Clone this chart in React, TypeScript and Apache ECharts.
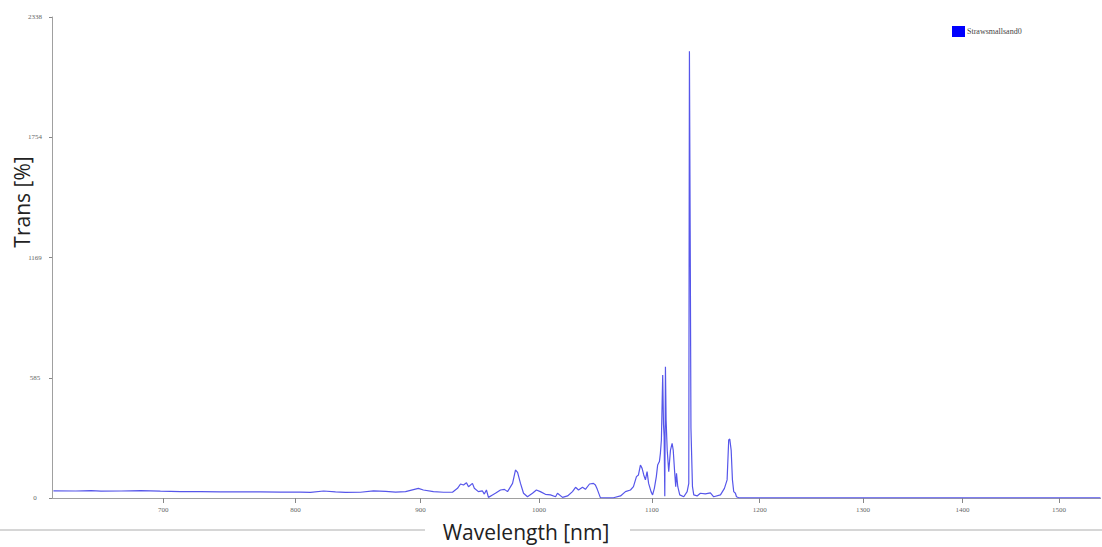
import React, { useEffect, useRef } from "react";
import * as echarts from "echarts";

// Spectrum samples (wavelength in nm, transmission value)
const wavelengths = [
  621, 636.8, 647.6, 654.8, 669.2, 683.5, 697.9, 712.8, 727.7, 742.6,
  757.8, 773.1, 788.4, 803.9, 811.8, 822.1, 831.5, 839.4, 851.3, 861.8,
  871.6, 879.7, 887.8, 898.3, 902.4, 910.7, 919.1, 926.5, 930.7, 933.2,
  935.7, 938.2, 939.9, 943.2, 944.8, 948.2, 951.5, 953.2, 955.0, 956.7,
  960.1, 962.6, 966.9, 970.3, 972.9, 977.2, 979.7, 981.5, 984.0, 986.6,
  990.0, 994.3, 997.7, 1001.1, 1005.5, 1009.9, 1014.3, 1016.0, 1020.4, 1024.8,
  1029.1, 1031.8, 1034.4, 1037.9, 1040.5, 1044.1, 1047.6, 1049.3, 1051.0, 1053.7,
  1060.0, 1065.4, 1071.7, 1076.1, 1080.6, 1083.3, 1086.0, 1087.8, 1089.6, 1091.1,
  1092.6, 1094.1, 1095.6, 1097.0, 1099.2, 1100.6, 1102.2, 1104.0, 1105.2, 1106.8,
  1107.7, 1108.6, 1109.3, 1109.8, 1110.5, 1111.1, 1111.7, 1112.3, 1112.9, 1113.9,
  1115.3, 1116.9, 1118.4, 1119.4, 1120.8, 1121.7, 1122.4, 1123.6, 1125.4, 1129.1,
  1132.2, 1133.7, 1134.3, 1135.0, 1135.7, 1137.1, 1138.3, 1141.4, 1144.4, 1149.0,
  1153.7, 1156.8, 1163.1, 1166.8, 1169.3, 1170.8, 1171.8, 1173.1, 1174.3, 1175.5,
  1177.1, 1178.1, 1180.2, 1200, 1300, 1400, 1500, 1544,
];

const trans = [
  35, 34, 36, 33, 34, 36, 33, 31, 31, 30,
  30, 30, 29, 29, 27, 34, 30, 27, 28, 35,
  32, 29, 31, 47, 39, 31, 28, 28, 47, 68,
  63, 74, 55, 71, 47, 31, 35, 19, 39, 3,
  15, 23, 39, 42, 31, 71, 136, 125, 71, 23,
  6, 23, 39, 31, 18, 15, 6, 23, 3, 10,
  31, 52, 39, 52, 42, 68, 71, 63, 42, 2,
  1, 1, 10, 31, 39, 55, 104, 112, 160, 144,
  112, 88, 128, 71, 31, 15, 47, 104, 160, 177,
  217, 282, 468, 598, 360, 300, 8, 638, 380, 233,
  128, 233, 266, 233, 120, 55, 120, 55, 15, 6,
  31, 71, 2172, 1295, 340, 55, 15, 10, 23, 20,
  25, 6, 15, 47, 88, 282, 287, 233, 88, 31,
  23, 6, 1, 1, 1, 1, 1, 1,
];

const xTicks = [700, 800, 900, 1000, 1100, 1200, 1300, 1400, 1500];
const xRange = [620, 1544];
const yMax = 2338;
const seriesName = "Strawsmallsand0";
const xTitle = "Wavelength [nm]";
const yTitle = "Trans [%]";

// Spectrometer axis calibration: the wavelength scale is not linear on screen
function pos(wl: number): number {
  const u = (wl - 1100) / 100;
  return 110.2 * u - 2.553 * u * u + 0.11 * u * u * u;
}

export default function App() {
  const ref = useRef<HTMLDivElement>(null);

  useEffect(() => {
    if (!ref.current) return;
    const chart = echarts.init(ref.current, null, { renderer: "svg" });
    const tickPos = xTicks.map(pos);
    const labelFor = (v: number) => {
      let best = 0;
      let bd = Infinity;
      tickPos.forEach((p, i) => {
        const d = Math.abs(p - v);
        if (d < bd) {
          bd = d;
          best = i;
        }
      });
      return bd < 1 ? String(xTicks[best]) : "";
    };
    chart.setOption({
      animation: false,
      grid: { left: 52, top: 17, right: 1.5, bottom: 49, containLabel: false },
      legend: {
        data: [{ name: seriesName, itemStyle: { color: "#0000ff" } }],
        icon: "rect",
        itemWidth: 13,
        itemHeight: 11,
        left: 947,
        top: 21,
        textStyle: {
          fontFamily: "Liberation Serif",
          fontSize: 8,
          color: "#444",
          padding: [0, 0, 0, -3],
        },
      },
      xAxis: {
        type: "value",
        min: pos(xRange[0]),
        max: pos(xRange[1]),
        axisLine: { show: true, onZero: false, lineStyle: { color: "#a0a0a0", width: 1 } },
        axisTick: {
          show: true,
          customValues: tickPos,
          length: 5,
          lineStyle: { color: "#888" },
        },
        axisLabel: {
          customValues: tickPos,
          formatter: (v: number) => labelFor(v),
          margin: 8,
          fontSize: 7,
          fontFamily: "Liberation Serif",
          color: "#666",
        },
        splitLine: { show: false },
      },
      yAxis: {
        type: "value",
        min: 0,
        max: yMax,
        interval: yMax / 4,
        axisLine: { show: true, onZero: false, lineStyle: { color: "#a0a0a0", width: 1 } },
        axisTick: { show: true, length: 3, lineStyle: { color: "#888" } },
        axisLabel: {
          formatter: (v: number) => String(Math.round(v)),
          fontSize: 7,
          fontFamily: "Liberation Serif",
          color: "#666",
          align: "center",
          margin: 17,
        },
        splitLine: { show: false },
      },
      series: [
        {
          name: seriesName,
          type: "line",
          data: wavelengths.map((w, i) => [pos(w), trans[i]]),
          showSymbol: false,
          symbol: "none",
          itemStyle: { color: "#0000ff" },
          lineStyle: { color: "#5656ea", width: 1.2 },
        },
      ],
      graphic: [
        {
          type: "line",
          shape: { x1: 0, y1: 530, x2: 425, y2: 530 },
          style: { stroke: "#d6d6d6", lineWidth: 2 },
        },
        {
          type: "line",
          shape: { x1: 630, y1: 530, x2: 1102, y2: 530 },
          style: { stroke: "#d6d6d6", lineWidth: 2 },
        },
        {
          type: "text",
          x: 526,
          y: 532,
          style: {
            text: xTitle,
            font: '21px "Open Sans"',
            fill: "#222",
            align: "center",
            verticalAlign: "middle",
          },
        },
        {
          type: "text",
          x: 22,
          y: 202,
          rotation: Math.PI / 2,
          style: {
            text: yTitle,
            font: '21px "Open Sans"',
            fill: "#222",
            align: "center",
            verticalAlign: "middle",
          },
        },
      ],
    });
    return () => chart.dispose();
  }, []);

  return (
    <div
      ref={ref}
      style={{ position: "absolute", left: 0, top: 0, width: 1102, height: 547 }}
    />
  );
}
